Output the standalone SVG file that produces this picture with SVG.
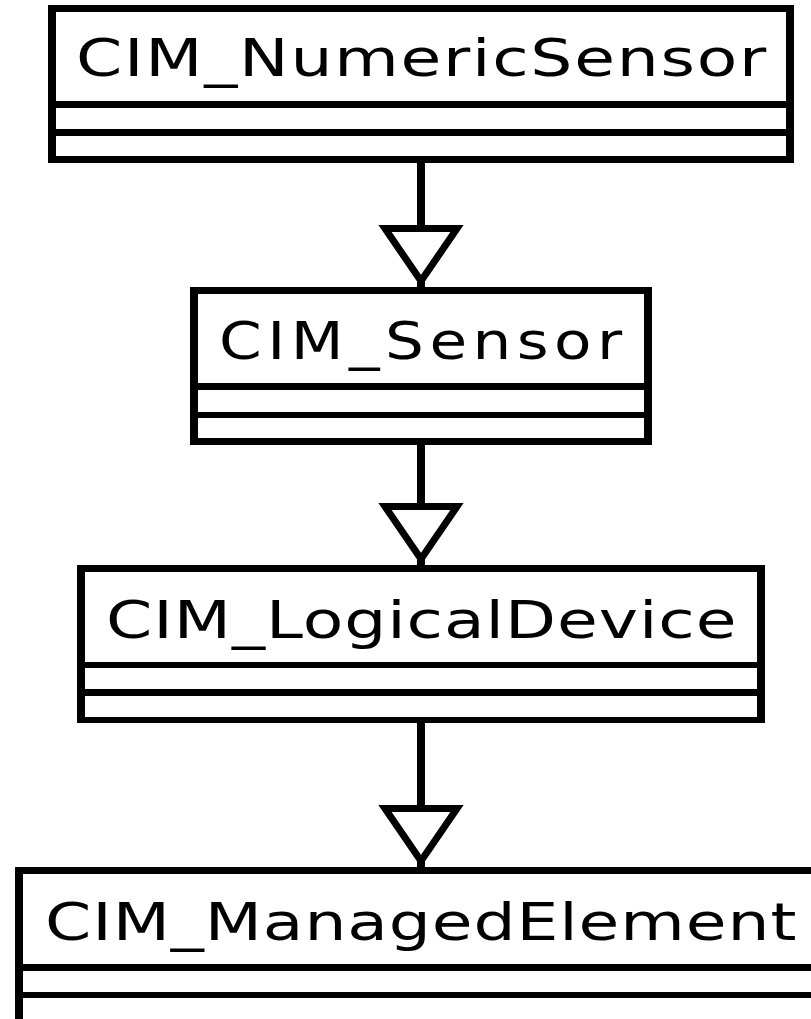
<svg xmlns="http://www.w3.org/2000/svg" width="811" height="1019" viewBox="0 0 811 1019">
<style>
.frame{fill:#000}
.comp{fill:#fff}
.name{font-family:"DejaVu Sans","Liberation Sans",sans-serif;font-size:51px;fill:#000}
.edge{stroke:#000;stroke-width:8;fill:none}
</style>
<defs>
<marker id="gen" markerUnits="userSpaceOnUse" orient="auto" markerWidth="100" markerHeight="100" refX="0" refY="0" viewBox="-80 -50 100 100" overflow="visible">
<path d="M-6,0 L-58.5,-36 L-58.5,36 Z" fill="#fff" stroke="#000" stroke-width="7" stroke-linejoin="miter" stroke-miterlimit="10"/>
</marker>
</defs>
<rect width="811" height="1019" fill="#fff"/>
<g id="connectors">
<path class="edge" d="M421,163 V287" marker-end="url(#gen)"/>
<path class="edge" d="M421,445 V565" marker-end="url(#gen)"/>
<path class="edge" d="M421,723 V867" marker-end="url(#gen)"/>
</g>
<g id="CIM_NumericSensor">
<rect class="frame" x="48" y="5" width="746" height="158"/>
<rect class="comp" x="56" y="12" width="730" height="89"/>
<rect class="comp" x="56" y="108" width="730" height="21"/>
<rect class="comp" x="56" y="136" width="730" height="20"/>
<text class="name" transform="translate(76,76) scale(1.3,1)" x="0" y="0" textLength="531" lengthAdjust="spacing">CIM_NumericSensor</text>
</g>
<g id="CIM_Sensor">
<rect class="frame" x="190" y="287" width="462" height="158"/>
<rect class="comp" x="198" y="294" width="446" height="89"/>
<rect class="comp" x="198" y="390" width="446" height="22"/>
<rect class="comp" x="198" y="418" width="446" height="20"/>
<text class="name" transform="translate(219,359) scale(1.2,1)" x="0" y="0" textLength="336" lengthAdjust="spacing">CIM_Sensor</text>
</g>
<g id="CIM_LogicalDevice">
<rect class="frame" x="77" y="565" width="688" height="158"/>
<rect class="comp" x="85" y="572" width="672" height="90"/>
<rect class="comp" x="85" y="668" width="672" height="21"/>
<rect class="comp" x="85" y="696" width="672" height="21"/>
<text class="name" transform="translate(106,638) scale(1.3,1)" x="0" y="0" textLength="485" lengthAdjust="spacing">CIM_LogicalDevice</text>
</g>
<g id="CIM_ManagedElement">
<rect class="frame" x="15" y="867" width="820" height="170"/>
<rect class="comp" x="23" y="874" width="812" height="90"/>
<rect class="comp" x="23" y="971" width="812" height="21"/>
<rect class="comp" x="23" y="998" width="812" height="40"/>
<text class="name" transform="translate(45,940) scale(1.3,1)" x="0" y="0" textLength="578" lengthAdjust="spacing">CIM_ManagedElement</text>
</g>
</svg>
